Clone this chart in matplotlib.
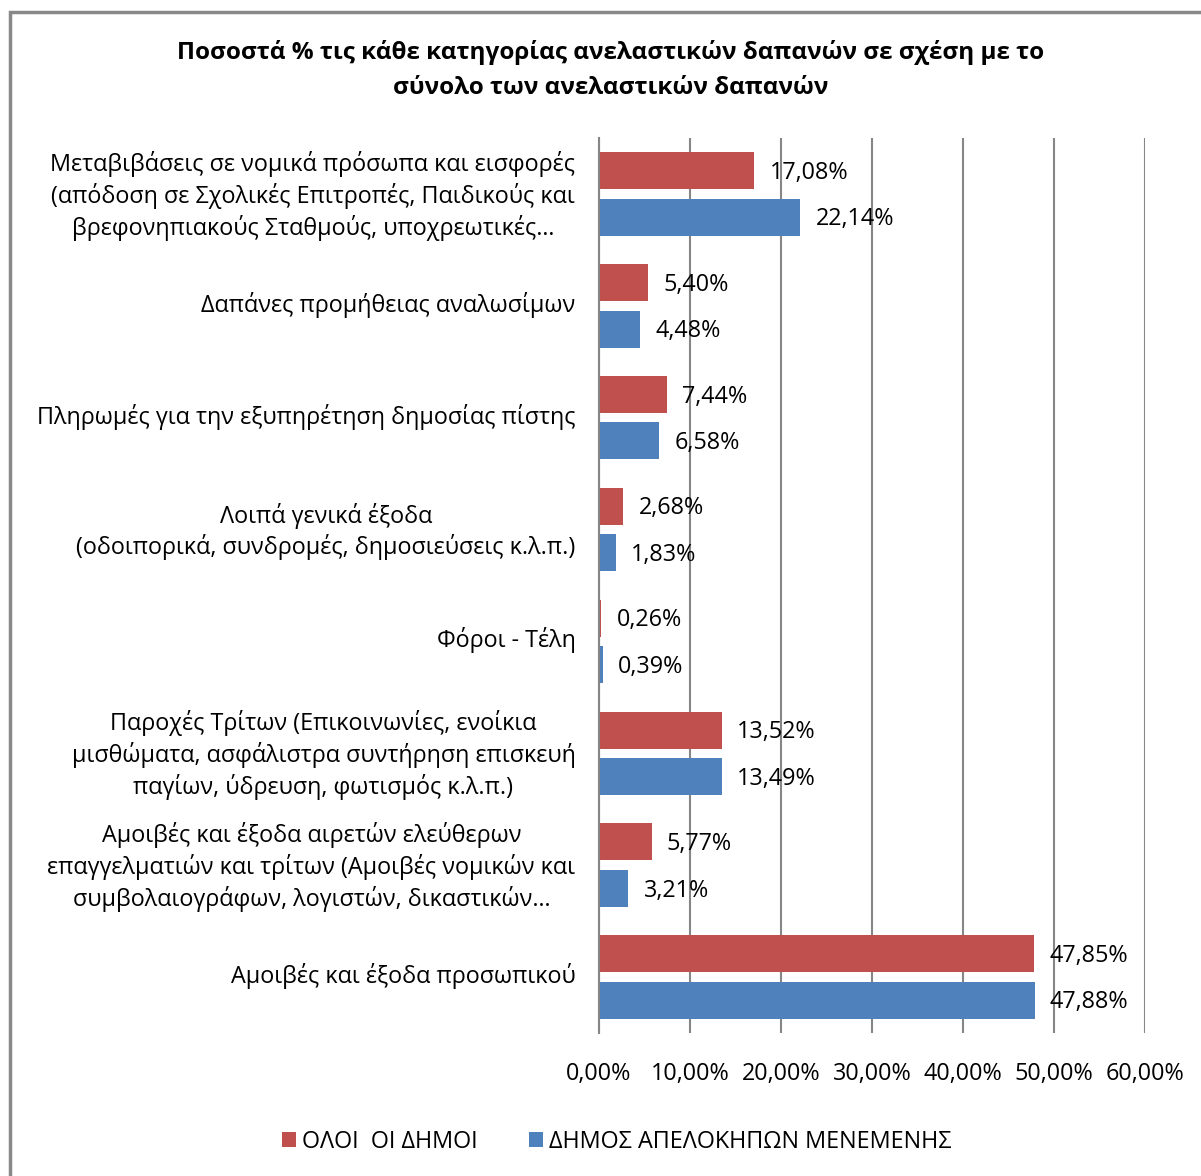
import matplotlib
matplotlib.use("Agg")
import matplotlib.pyplot as plt
import numpy as np
from matplotlib.patches import Rectangle, Patch
from matplotlib.transforms import ScaledTranslation

plt.rcParams['font.family'] = ['Open Sans', 'DejaVu Sans']

categories = [
    "Μεταβιβάσεις σε νομικά πρόσωπα και εισφορές\n(απόδοση σε Σχολικές Επιτροπές, Παιδικούς και\nβρεφονηπιακούς Σταθμούς, υποχρεωτικές…",
    "Δαπάνες προμήθειας αναλωσίμων",
    "Πληρωμές για την εξυπηρέτηση δημοσίας πίστης",
    "Λοιπά γενικά έξοδα\n(οδοιπορικά, συνδρομές, δημοσιεύσεις κ.λ.π.)",
    "Φόροι - Τέλη",
    "Παροχές Τρίτων (Επικοινωνίες, ενοίκια\nμισθώματα, ασφάλιστρα συντήρηση επισκευή\nπαγίων, ύδρευση, φωτισμός κ.λ.π.)",
    "Αμοιβές και έξοδα αιρετών ελεύθερων\nεπαγγελματιών και τρίτων (Αμοιβές νομικών και\nσυμβολαιογράφων, λογιστών, δικαστικών…",
    "Αμοιβές και έξοδα προσωπικού",
]
all_municipalities = [17.08, 5.40, 7.44, 2.68, 0.26, 13.52, 5.77, 47.85]
apelokipoi = [22.14, 4.48, 6.58, 1.83, 0.39, 13.49, 3.21, 47.88]
series_names = ["ΟΛΟΙ  ΟΙ ΔΗΜΟΙ", "ΔΗΜΟΣ ΑΠΕΛΟΚΗΠΩΝ ΜΕΝΕΜΕΝΗΣ"]
xticks = [0, 10, 20, 30, 40, 50, 60]
title = "Ποσοστά % τις κάθε κατηγορίας ανελαστικών δαπανών σε σχέση με το\nσύνολο των ανελαστικών δαπανών"

red = "#C0504D"
blue = "#4F81BD"
grid = "#868686"

fig = plt.figure(figsize=(12.01, 11.76), dpi=100)
ax = fig.add_axes([599/1201, 1-1033/1176, 546/1201, 895/1176])

y = np.arange(len(categories))
h = 0.33
off = 0.208
ax.barh(y - off, all_municipalities, height=h, color=red, zorder=3)
ax.barh(y + off, apelokipoi, height=h, color=blue, zorder=3)

fs = 16.8
for yi, v in zip(y - off, all_municipalities):
    ax.annotate(f"{v:.2f}%".replace('.', ','), (v, yi), xytext=(11, -1.5),
                textcoords='offset points', va='center', ha='left', fontsize=fs, zorder=4)
for yi, v in zip(y + off, apelokipoi):
    ax.annotate(f"{v:.2f}%".replace('.', ','), (v, yi), xytext=(11, -1.5),
                textcoords='offset points', va='center', ha='left', fontsize=fs, zorder=4)

ax.set_xlim(0, 60)
ax.set_ylim(len(categories) - 0.5, -0.5)
ax.set_xticks(xticks)
ax.set_xticklabels([f"{t:.2f}%".replace('.', ',') for t in xticks], fontsize=fs)
ax.set_yticks(y)
ax.set_yticklabels(categories, fontsize=fs, multialignment='center', linespacing=1.29)
ax.tick_params(axis='y', length=0, pad=17)
ax.tick_params(axis='x', length=0, pad=21)
shift = ScaledTranslation(0, 4/100, fig.dpi_scale_trans)
for lab in ax.get_yticklabels():
    lab.set_transform(lab.get_transform() + shift)
ax.xaxis.grid(True, color=grid, linewidth=1.5, zorder=0)
for s in ['top', 'right', 'bottom']:
    ax.spines[s].set_visible(False)
ax.spines['left'].set_color(grid)
ax.spines['left'].set_linewidth(1.5)
ax.spines['left'].set_zorder(5)

fig.text(611/1201, 1-70/1176, title, ha='center', va='center', fontsize=17.5,
         fontweight='bold', linespacing=1.65)

handles = [Patch(facecolor=red), Patch(facecolor=blue)]
fig.legend(handles, series_names, loc='center', bbox_to_anchor=(617/1201, 1-1142/1176),
           ncol=2, frameon=False, fontsize=fs, handlelength=0.6, handleheight=0.6,
           handletextpad=0.25, columnspacing=2.2)

fig.patches.append(Rectangle((10/1201, -0.1), 1.2, 1-12/1176+0.1, transform=fig.transFigure,
                             fill=False, edgecolor='#888888', linewidth=2.5))

fig.savefig("out.png", dpi=100)
